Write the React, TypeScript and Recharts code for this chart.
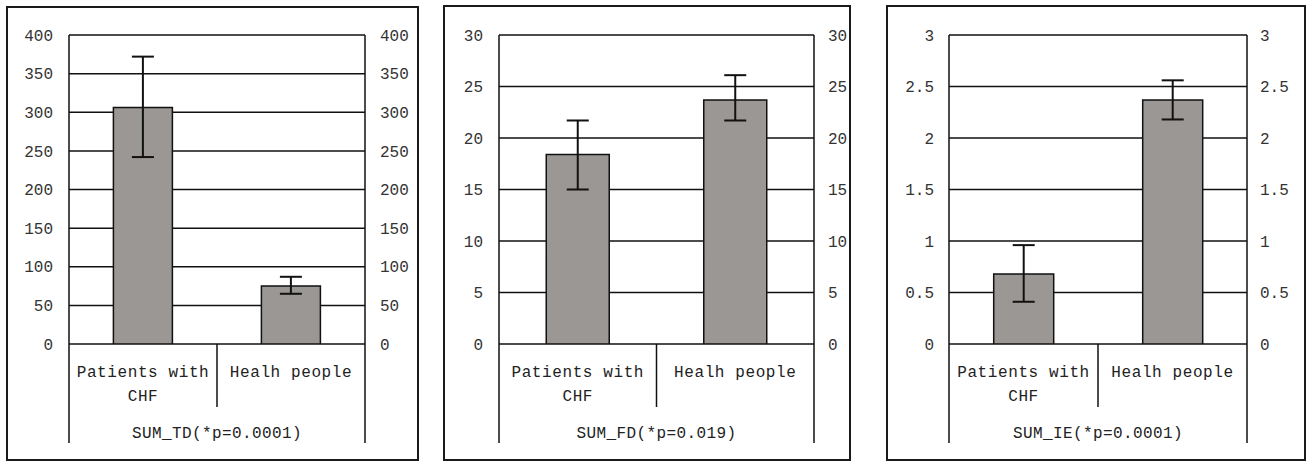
import React from "react";
import { ComposedChart, Bar, Line, XAxis, YAxis, CartesianGrid, ErrorBar } from "recharts";

// categories shared by the three panels
const categories = ["Patients with CHF", "Healh people"];

// SUM_TD
const tdMean = [306, 75];
const tdLow = [242, 65];
const tdHigh = [372, 87];
const tdTicks = [0, 50, 100, 150, 200, 250, 300, 350, 400];

// SUM_FD
const fdMean = [18.4, 23.7];
const fdLow = [15.0, 21.7];
const fdHigh = [21.7, 26.1];
const fdTicks = [0, 5, 10, 15, 20, 25, 30];

// SUM_IE
const ieMean = [0.68, 2.37];
const ieLow = [0.41, 2.18];
const ieHigh = [0.96, 2.56];
const ieTicks = [0, 0.5, 1, 1.5, 2, 2.5, 3];

const titles = ["SUM_TD(*p=0.0001)", "SUM_FD(*p=0.019)", "SUM_IE(*p=0.0001)"];

const PLOT_TOP = 35;
const ZERO_Y = 344;
const FONT = "'Liberation Mono', 'DejaVu Sans Mono', monospace";
const INK = "#111";

const buildRows = (mean: number[], low: number[], high: number[]) =>
  categories.map((name, i) => ({
    name,
    value: mean[i],
    err: [mean[i] - low[i], high[i] - mean[i]],
  }));

const panels = [
  { box: [6, 6, 413, 455], plotLeft: 69, plotRight: 365, gapL: 16, gapR: 15, ticks: tdTicks, rows: buildRows(tdMean, tdLow, tdHigh), title: titles[0] },
  { box: [443, 5, 408, 456], plotLeft: 499, plotRight: 814, gapL: 16, gapR: 14, ticks: fdTicks, rows: buildRows(fdMean, fdLow, fdHigh), title: titles[1] },
  { box: [886, 5, 420, 456], plotLeft: 949, plotRight: 1247, gapL: 15, gapR: 13, ticks: ieTicks, rows: buildRows(ieMean, ieLow, ieHigh), title: titles[2] },
];

const wrap = (label: string, max = 13) => {
  const lines: string[] = [];
  let cur = "";
  label.split(" ").forEach((w) => {
    const next = cur ? cur + " " + w : w;
    if (next.length > max && cur) {
      lines.push(cur);
      cur = w;
    } else cur = next;
  });
  if (cur) lines.push(cur);
  return lines;
};

const CategoryTick = (props: any) => {
  const { x, payload, index, band, zero, bottom, count, title, plotMid } = props;
  const left = x - band / 2;
  const right = x + band / 2;
  const lines = wrap(String(payload.value));
  return (
    <g>
      {lines.map((ln, i) => (
        <text
          key={i}
          x={x}
          y={zero + 29 + i * 24}
          textAnchor="middle"
          dominantBaseline="central"
          fontFamily={FONT}
          fontSize={16}
          letterSpacing={0.6}
          fill="#222"
        >
          {ln}
        </text>
      ))}
      {index === 0 && (
        <>
          <line x1={left} y1={zero} x2={left} y2={bottom} stroke={INK} strokeWidth={1.5} />
          <text
            x={plotMid}
            y={zero + 90}
            textAnchor="middle"
            dominantBaseline="central"
            fontFamily={FONT}
            fontSize={16}
            letterSpacing={0.4}
            fill="#222"
          >
            {title}
          </text>
        </>
      )}
      {index < count - 1 ? (
        <line x1={right} y1={zero} x2={right} y2={zero + 63} stroke={INK} strokeWidth={1.5} />
      ) : (
        <line x1={right} y1={zero} x2={right} y2={bottom} stroke={INK} strokeWidth={1.5} />
      )}
    </g>
  );
};

const Panel = ({ p }: { p: (typeof panels)[number] }) => {
  const [L, T, W, H] = p.box;
  const ox = L + 2;
  const oy = T + 2;
  const cw = W - 4;
  const ch = H - 4;
  const leftW = p.plotLeft - ox;
  const rightW = ox + cw - p.plotRight;
  const xh = oy + ch - ZERO_Y;
  const zero = ZERO_Y - oy;
  const band = (p.plotRight - p.plotLeft) / p.rows.length;
  const max = p.ticks[p.ticks.length - 1];
  const tickStyle = { fontFamily: FONT, fontSize: 16, fill: "#333" };

  return (
    <div
      style={{
        position: "absolute",
        left: L,
        top: T,
        width: W,
        height: H,
        border: "2px solid #1a1a1a",
        boxSizing: "border-box",
        background: "#fff",
      }}
    >
      <ComposedChart
        width={cw}
        height={ch}
        data={p.rows}
        margin={{ top: PLOT_TOP - oy, right: 0, bottom: 0, left: 0 }}
        barCategoryGap="30%"
      >
        <CartesianGrid yAxisId="left" vertical={false} stroke={INK} strokeWidth={1.5} />
        <XAxis
          dataKey="name"
          height={xh}
          axisLine={false}
          tickLine={false}
          interval={0}
          tick={(tp: any) => (
            <CategoryTick
              {...tp}
              band={band}
              zero={zero}
              bottom={zero + 99}
              count={p.rows.length}
              title={p.title}
              plotMid={leftW + (p.plotRight - p.plotLeft) / 2}
            />
          )}
        />
        <YAxis
          yAxisId="left"
          orientation="left"
          width={leftW}
          domain={[0, max]}
          ticks={p.ticks}
          interval={0}
          allowDataOverflow
          tickLine={false}
          tickSize={p.gapL}
          tickMargin={0}
          axisLine={{ stroke: INK, strokeWidth: 1.5 }}
          tick={tickStyle}
        />
        <YAxis
          yAxisId="right"
          orientation="right"
          width={rightW}
          domain={[0, max]}
          ticks={p.ticks}
          interval={0}
          allowDataOverflow
          tickLine={false}
          tickSize={p.gapR}
          tickMargin={0}
          axisLine={{ stroke: INK, strokeWidth: 1.5 }}
          tick={tickStyle}
        />
        <Bar yAxisId="left" dataKey="value" fill="#9a9795" stroke={INK} strokeWidth={1.5} isAnimationActive={false}>
          <ErrorBar dataKey="err" direction="y" width={11} stroke={INK} strokeWidth={2} isAnimationActive={false} />
        </Bar>
        {/* invisible series so the mirrored right axis gets its scale */}
        <Line
          yAxisId="right"
          dataKey="value"
          stroke="none"
          dot={false}
          activeDot={false}
          legendType="none"
          isAnimationActive={false}
        />
      </ComposedChart>
    </div>
  );
};

export default function App() {
  return (
    <div style={{ position: "absolute", left: 0, top: 0, width: 1308, height: 463, background: "#fff" }}>
      {panels.map((p, i) => (
        <Panel key={i} p={p} />
      ))}
    </div>
  );
}
